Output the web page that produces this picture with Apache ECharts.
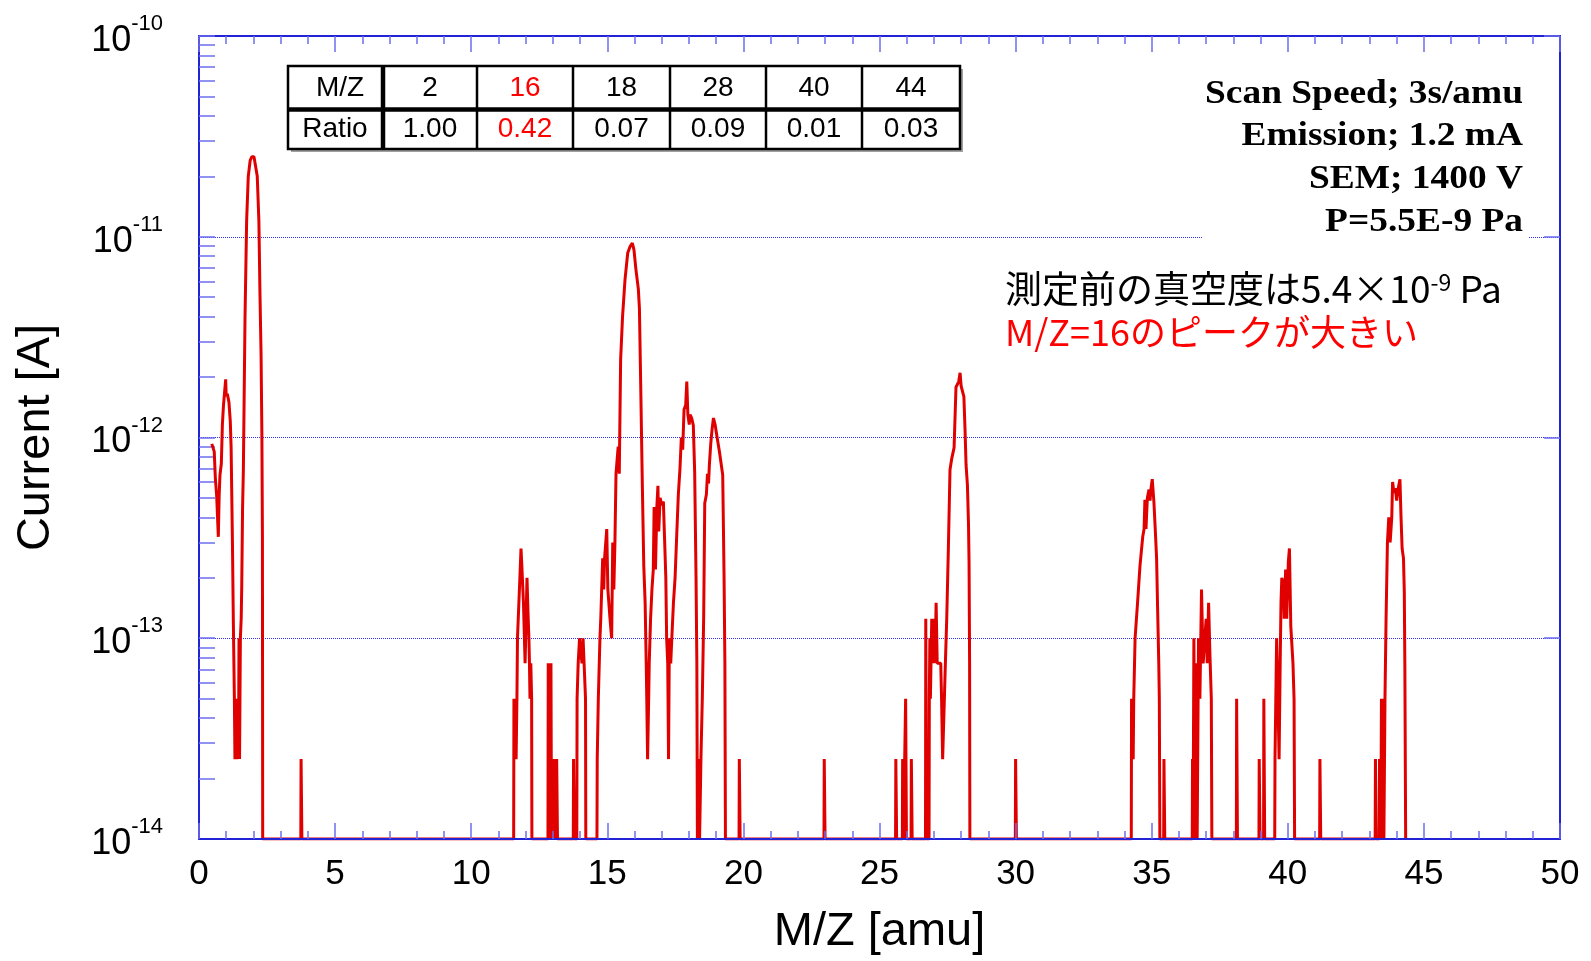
<!DOCTYPE html>
<html>
<head>
<meta charset="utf-8">
<title>Mass spectrum</title>
<script src="https://cdn.jsdelivr.net/npm/echarts@6/dist/echarts.min.js"></script>
<style>
  html, body { margin: 0; padding: 0; background: #fff; }
  #chart { width: 1591px; height: 961px; }
</style>
</head>
<body>
<div id="chart"></div>
<script>
// signal floor = bottom of the scale
var F = 1e-14;

// M/Z [amu], current [A], one array per region
var peak2 = [
  [0.47,9.3e-13],[0.56,8.5e-13],[0.60,6.3e-13],[0.65,5.1e-13],[0.71,3.2e-13],[0.74,5.1e-13],[0.77,6.5e-13],
  [0.82,7.4e-13],[0.86,1.17e-12],[0.90,1.45e-12],[0.98,1.95e-12],[1.00,1.6e-12],[1.04,1.65e-12],[1.10,1.5e-12],
  [1.15,1.2e-12],[1.18,8.9e-13],[1.23,2.9e-13],[1.26,1.25e-13],[1.30,5e-14],[1.32,2.5e-14],[1.34,5e-14],
  [1.36,2.5e-14],[1.38,5e-14],[1.40,2.5e-14],[1.43,5e-14],[1.45,2.5e-14],[1.47,1e-13],[1.49,2.5e-14],
  [1.52,1e-13],[1.55,1.25e-13],[1.57,1.8e-13],[1.60,4.4e-13],[1.63,6.9e-13],[1.69,3.9e-12],[1.75,1.2e-11],
  [1.81,2.0e-11],[1.88,2.4e-11],[1.94,2.5e-11],[2.02,2.5e-11],[2.09,2.5e-11],[2.14,2.0e-11],[2.20,1.2e-11],
  [2.24,5.2e-12],[2.28,2.6e-12],[2.31,1.05e-12],[2.33,3.2e-13],[2.34,F],
  [3.74,F],[3.75,2.5e-14],[3.77,2.5e-14],[3.78,F]
];

var peak12_14 = [
  [11.56,F],[11.57,5e-14],[11.60,2.5e-14],[11.62,5e-14],[11.65,2.5e-14],[11.68,5e-14],[11.70,1e-13],
  [11.76,1.6e-13],[11.80,2.2e-13],[11.83,2.8e-13],[11.86,2.3e-13],[11.92,1.5e-13],[11.98,7.5e-14],[12.00,1e-13],
  [12.05,2.0e-13],[12.09,1.3e-13],[12.12,1e-13],[12.14,7.5e-14],[12.16,5e-14],[12.19,7.5e-14],[12.22,5e-14],[12.23,F],
  [12.82,F],[12.83,7.5e-14],[12.86,7.5e-14],[12.87,F],[12.89,7.5e-14],[12.91,2.5e-14],[12.93,7.5e-14],[12.95,F],
  [13.02,F],[13.03,2.5e-14],[13.05,2.5e-14],[13.06,F],[13.13,F],[13.14,2.5e-14],[13.16,2.5e-14],[13.17,F],
  [13.75,F],[13.76,2.5e-14],[13.78,2.5e-14],[13.79,F],
  [13.88,F],[13.89,5e-14],[13.93,7.5e-14],[13.98,1e-13],[14.04,1e-13],[14.07,7.5e-14],[14.11,1e-13],
  [14.18,1e-13],[14.20,5e-14],[14.21,F]
];

var peak16_18 = [
  [14.62,F],[14.63,2.5e-14],[14.67,5e-14],[14.73,1e-13],[14.76,1.25e-13],[14.83,2.5e-13],[14.87,1.75e-13],
  [14.90,2.5e-13],[14.98,3.5e-13],[15.02,1.75e-13],[15.10,1.25e-13],[15.16,1e-13],[15.20,3e-13],[15.24,1.75e-13],
  [15.28,3e-13],[15.32,6.6e-13],[15.36,6.6e-13],[15.40,9e-13],[15.44,6.6e-13],[15.49,2.45e-12],[15.56,4e-12],
  [15.65,6.1e-12],[15.75,8.3e-12],[15.83,8.9e-12],[15.88,8.7e-12],[15.92,9.3e-12],[15.98,8.6e-12],[16.05,6.9e-12],
  [16.14,5.5e-12],[16.18,4.4e-12],[16.23,1.74e-12],[16.29,5.5e-13],[16.34,2.3e-13],[16.39,1.5e-13],[16.43,7.5e-14],
  [16.45,5e-14],[16.48,2.5e-14],[16.52,5e-14],[16.54,7.5e-14],[16.59,1.25e-13],[16.64,1.75e-13],[16.69,2.2e-13],
  [16.72,4.5e-13],[16.77,2.2e-13],[16.82,4.5e-13],[16.86,5.75e-13],[16.89,3.4e-13],[16.94,5e-13],[17.00,4.6e-13],
  [17.06,4.8e-13],[17.10,3.25e-13],[17.15,2e-13],[17.18,1e-13],[17.22,7.5e-14],[17.25,2.5e-14],[17.28,1e-13],
  [17.33,7.5e-14],[17.37,1e-13],[17.43,1.5e-13],[17.49,2e-13],[17.55,3.25e-13],[17.61,5.2e-13],[17.67,7e-13],
  [17.72,1e-12],[17.77,8.7e-13],[17.82,1.38e-12],[17.88,1.45e-12],[17.92,1.9e-12],[17.96,1.3e-12],[18.01,1.16e-12],
  [18.04,1.3e-12],[18.10,1.25e-12],[18.16,1.15e-12],[18.21,6.7e-13],[18.26,2e-13],[18.29,7.5e-14],[18.31,F],
  [18.36,F],[18.37,2.5e-14],[18.39,F],[18.42,F],[18.44,2.5e-14],[18.49,5e-14],[18.54,1.25e-13],[18.58,4.7e-13],
  [18.64,5.2e-13],[18.68,6.6e-13],[18.72,5.9e-13],[18.75,7.3e-13],[18.80,9.3e-13],[18.85,1.1e-12],[18.90,1.25e-12],
  [18.96,1.16e-12],[19.02,1.03e-12],[19.12,8.5e-13],[19.24,6.5e-13],[19.27,3.25e-13],[19.29,2e-13],[19.32,7.5e-14],
  [19.34,F]
];

var peak28 = [
  [19.84,F],[19.85,2.5e-14],[19.87,2.5e-14],[19.88,F],
  [22.96,F],[22.97,2.5e-14],[22.99,2.5e-14],[23.00,F],
  [25.59,F],[25.60,2.5e-14],[25.62,2.5e-14],[25.63,F],
  [25.84,F],[25.85,2.5e-14],[25.87,2.5e-14],[25.88,F],
  [25.95,F],[25.96,5e-14],[25.98,5e-14],[25.99,F],
  [26.16,F],[26.17,2.5e-14],[26.19,2.5e-14],[26.20,F],
  [26.69,F],[26.70,1.25e-13],[26.72,1.25e-13],[26.73,F],
  [26.82,F],[26.83,5e-14],[26.85,1e-13],[26.87,5e-14],[26.92,1.25e-13],[26.96,7.5e-14],[27.00,1.25e-13],
  [27.04,7.5e-14],[27.08,1.5e-13],[27.12,7.5e-14],[27.25,7.5e-14],[27.28,5e-14],[27.32,2.5e-14],[27.38,2.5e-14],
  [27.42,7.5e-14],[27.47,1.25e-13],[27.53,2.8e-13],[27.59,6.9e-13],[27.65,7.8e-13],[27.74,8.9e-13],[27.81,1.78e-12],
  [27.87,1.8e-12],[27.91,1.9e-12],[27.96,2.1e-12],[28.00,1.8e-12],[28.06,1.78e-12],[28.10,1.6e-12],[28.14,1.12e-12],
  [28.18,7.3e-13],[28.23,5.8e-13],[28.27,3.7e-13],[28.29,2.4e-13],[28.31,7.5e-14],[28.32,F],
  [29.99,F],[30.00,2.5e-14],[30.02,2.5e-14],[30.03,F]
];

var peak35_44 = [
  [34.25,F],[34.26,5e-14],[34.28,2.5e-14],[34.30,5e-14],[34.32,2.5e-14],[34.34,5e-14],[34.37,5e-14],[34.39,1e-13],
  [34.42,1e-13],[34.48,1.5e-13],[34.57,2.3e-13],[34.67,3.2e-13],[34.72,3.5e-13],[34.75,4.9e-13],[34.79,3.5e-13],
  [34.84,5e-13],[34.90,5.5e-13],[34.94,4.85e-13],[34.97,5.5e-13],[35.02,6.2e-13],[35.08,4.8e-13],[35.13,3.5e-13],
  [35.18,2.5e-13],[35.22,1.35e-13],[35.26,7.5e-14],[35.28,5e-14],[35.30,F],
  [35.44,F],[35.45,2.5e-14],[35.47,2.5e-14],[35.48,F],
  [36.49,F],[36.50,2.5e-14],[36.52,F],[36.54,F],[36.55,1e-13],[36.57,1e-13],[36.59,F],[36.62,F],[36.63,7.5e-14],
  [36.65,7.5e-14],[36.67,F],[36.70,F],[36.72,1e-13],[36.77,5e-14],[36.79,7.5e-14],[36.83,1.75e-13],[36.87,1e-13],
  [36.89,7.5e-14],[36.96,7.5e-14],[37.00,1.25e-13],[37.04,7.5e-14],[37.09,1.5e-13],[37.14,8.2e-14],[37.19,5e-14],[37.21,F],
  [38.11,F],[38.12,5e-14],[38.14,5e-14],[38.15,F],
  [38.94,F],[38.95,2.5e-14],[38.97,2.5e-14],[38.98,F],
  [39.11,F],[39.12,5e-14],[39.14,5e-14],[39.15,F],
  [39.52,F],[39.53,2.5e-14],[39.56,5e-14],[39.59,1e-13],[39.64,5e-14],[39.68,2.5e-14],[39.72,7.5e-14],[39.75,1.5e-13],
  [39.78,2e-13],[39.83,1.9e-13],[39.87,1.25e-13],[39.92,2.2e-13],[39.96,1.25e-13],[40.02,2.4e-13],[40.06,2.8e-13],
  [40.11,1.15e-13],[40.15,1.15e-13],[40.19,7.5e-14],[40.23,5e-14],[40.25,F],
  [41.17,F],[41.18,2.5e-14],[41.20,2.5e-14],[41.21,F],
  [43.21,F],[43.22,2.5e-14],[43.24,2.5e-14],[43.25,F],[43.36,F],[43.37,2.5e-14],[43.39,2.5e-14],[43.42,F],
  [43.44,5e-14],[43.47,2.5e-14],[43.51,5e-14],[43.53,F],[43.55,F],[43.57,5e-14],[43.61,1.25e-13],[43.66,3e-13],
  [43.71,4e-13],[43.76,3e-13],[43.82,4e-13],[43.85,6e-13],[43.90,5.3e-13],[43.95,5.6e-13],[44.00,4.85e-13],
  [44.06,5.6e-13],[44.12,6.2e-13],[44.16,4e-13],[44.20,2.8e-13],[44.25,2.5e-13],[44.28,1.7e-13],[44.30,7.5e-14],[44.33,F]
];

// table in the upper left
var tableMz = ['2', '16', '18', '28', '40', '44'];
var tableRatio = ['1.00', '0.42', '0.07', '0.09', '0.01', '0.03'];
var tableHighlight = '16';

// measurement notes
var infoLines = ['Scan Speed; 3s/amu', 'Emission; 1.2 mA', 'SEM; 1400 V', 'P=5.5E-9 Pa'];

// log axis decades and the 2..9 minor ticks between them
var yDecades = [1e-14, 1e-13, 1e-12, 1e-11, 1e-10];
var yMinor = [];
yDecades.slice(0, 4).forEach(function (d) {
  for (var k = 2; k <= 9; k++) yMinor.push(d * k);
});

var spectrum = [].concat(peak2, peak12_14, peak16_18, peak28, peak35_44);

var blue = '#2222d6';
var tickBlue = '#6d6dee';
var sans = '"Liberation Sans", Arial, sans-serif';
var jp = '"Noto Sans CJK JP", "Noto Sans CJK SC", sans-serif';

var chart = echarts.init(document.getElementById('chart'));

function xAxisBase(pos) {
  return {
    type: 'value', min: 0, max: 50, interval: 5, position: pos,
    axisLine: { show: true, onZero: false, lineStyle: { color: blue, width: 2 } },
    axisTick: { show: true, inside: true, length: 16, lineStyle: { color: tickBlue, width: 1.5 } },
    minorTick: { show: true, splitNumber: 5, length: 8, lineStyle: { color: tickBlue, width: 1.5 } },
    splitLine: { show: false },
    axisLabel: { show: false }
  };
}

function yAxisBase(pos) {
  return {
    type: 'log', logBase: 10, min: 1e-14, max: 1e-10, position: pos,
    axisLine: { show: true, onZero: false, lineStyle: { color: blue, width: 2 } },
    axisTick: { show: true, inside: true, length: 16, lineStyle: { color: tickBlue, width: 1.5 } },
    splitLine: { show: false },
    axisLabel: { show: false }
  };
}

// minor ticks: an extra axis shifted 8px into the plot, ticks pointing back to the frame
function yMinorAxis(pos) {
  return {
    type: 'log', logBase: 10, min: 1e-14, max: 1e-10, position: pos, offset: -8,
    axisLine: { show: false },
    axisTick: { show: true, inside: false, length: 8, customValues: yMinor,
      lineStyle: { color: tickBlue, width: 1.5 } },
    splitLine: { show: false },
    axisLabel: { show: false }
  };
}

var xBottom = xAxisBase('bottom');
xBottom.z = 3;
xBottom.axisLabel = { show: true, color: '#000', fontSize: 35, fontFamily: sans, margin: 18,
  showMinLabel: true, showMaxLabel: true };
xBottom.name = 'M/Z [amu]';
xBottom.nameLocation = 'middle';
xBottom.nameGap = 70;
xBottom.nameTextStyle = { color: '#000', fontSize: 47, fontFamily: sans };

var yLeft = yAxisBase('left');
yLeft.splitLine = { show: true, lineStyle: { color: '#2f2ff5', width: 1, type: 'dotted' } };
yLeft.axisLabel = {
  show: true, margin: 36, showMinLabel: true, showMaxLabel: true,
  formatter: function (v) {
    return '{b|10}{s|' + Math.round(Math.log10(v)) + '}';
  },
  rich: {
    b: { fontSize: 36, fontFamily: sans, color: '#000', verticalAlign: 'bottom' },
    s: { fontSize: 22, fontFamily: sans, color: '#000', verticalAlign: 'bottom', padding: [0, 0, 24, 0] }
  }
};
yLeft.name = 'Current [A]';
yLeft.nameLocation = 'middle';
yLeft.nameGap = 139;
yLeft.nameTextStyle = { color: '#000', fontSize: 47, fontFamily: sans };

// table graphics
var TX = [288, 383, 477, 573, 670, 766, 862, 960];
var TY = [66, 109.5, 149];
var graphic = [];
graphic.push({ type: 'rect', z: 10, shape: { x: TX[0] + 3, y: TY[0] + 3, width: TX[7] - TX[0], height: TY[2] - TY[0] },
  style: { fill: '#a0a0a0' } });
graphic.push({ type: 'rect', z: 10, shape: { x: TX[0], y: TY[0], width: TX[7] - TX[0], height: TY[2] - TY[0] },
  style: { fill: '#fff', stroke: '#000', lineWidth: 2.5 } });
graphic.push({ type: 'line', z: 11, shape: { x1: TX[0], y1: TY[1], x2: TX[7], y2: TY[1] },
  style: { stroke: '#000', lineWidth: 4.5 } });
for (var i = 1; i < 7; i++) {
  graphic.push({ type: 'line', z: 11, shape: { x1: TX[i], y1: TY[0], x2: TX[i], y2: TY[2] },
    style: { stroke: '#000', lineWidth: i === 1 ? 4.5 : 2.5 } });
}
function cellText(txt, cx, cy, color) {
  return { type: 'text', z: 12, x: cx, y: cy,
    style: { text: txt, x: 0, y: 0, align: 'center', verticalAlign: 'middle',
      fontSize: 28, fontFamily: sans, fill: color } };
}
var r1 = (TY[0] + TY[1]) / 2 + 1, r2 = (TY[1] + TY[2]) / 2;
graphic.push(cellText('M/Z', 340, r1, '#000'));
graphic.push(cellText('Ratio', 335, r2, '#000'));
tableMz.forEach(function (m, j) {
  var cx = (TX[j + 1] + TX[j + 2]) / 2;
  var col = m === tableHighlight ? '#ff0000' : '#000';
  graphic.push(cellText(m, cx, r1, col));
  graphic.push(cellText(tableRatio[j], cx, r2, col));
});

// notes box (white ground hides the grid line behind it)
graphic.push({ type: 'rect', z: 1, shape: { x: 1202, y: 68, width: 326, height: 178 }, style: { fill: '#fff' } });
infoLines.forEach(function (t, i) {
  graphic.push({ type: 'text', z: 12, x: 1523, y: 94 + i * 42.6, scaleX: 1.1,
    style: { text: t, x: 0, y: 0, align: 'right', verticalAlign: 'middle',
      fontSize: 34, fontWeight: 'bold', fontFamily: '"Liberation Serif", "Times New Roman", serif', fill: '#000' } });
});
graphic.push({ type: 'text', z: 12, x: 1005, y: 289,
  style: { text: '{j|測定前の真空度は5.4×10}{s|-9}{j| Pa}', x: 0, y: 0, align: 'left', verticalAlign: 'middle',
    rich: {
      j: { fontSize: 37, fontFamily: jp, fill: '#000', verticalAlign: 'bottom' },
      s: { fontSize: 23, fontFamily: jp, fill: '#000', verticalAlign: 'bottom', padding: [0, 0, 14, 0] }
    } } });
graphic.push({ type: 'text', z: 12, x: 1005, y: 332,
  style: { text: 'M/Z=16のピークが大きい', x: 0, y: 0, align: 'left', verticalAlign: 'middle',
    fontSize: 36, fontFamily: jp, fill: '#ff0000' } });

var option = {
  animation: false,
  backgroundColor: '#fff',
  grid: { left: 199, right: 31, top: 36, bottom: 119 },
  xAxis: [xBottom, xAxisBase('top')],
  yAxis: [yLeft, yMinorAxis('left'), yAxisBase('right'), yMinorAxis('right')],
  graphic: graphic,
  series: [{
    type: 'line',
    xAxisIndex: 0,
    yAxisIndex: 0,
    data: spectrum,
    showSymbol: false,
    symbol: 'none',
    clip: true,
    lineStyle: { color: '#e00000', width: 3 },
    z: 2
  }]
};
chart.setOption(option);
</script>
</body>
</html>
